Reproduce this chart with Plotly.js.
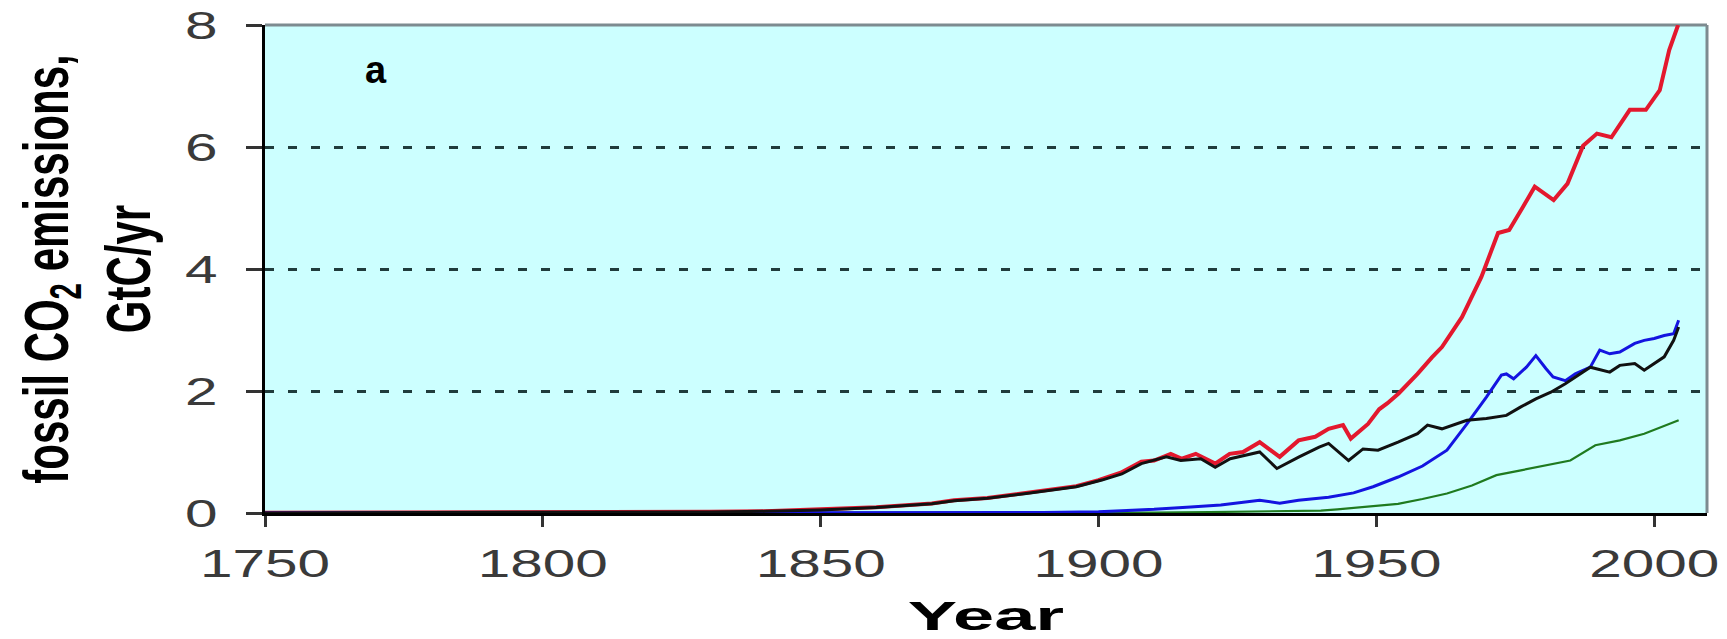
<!DOCTYPE html>
<html>
<head>
<meta charset="utf-8">
<script src="https://cdn.plot.ly/plotly-3.0.1.min.js"></script>
<style>
  html, body { margin: 0; padding: 0; background: #ffffff; }
  #chart { width: 1727px; height: 639px; }
  g.xtick, g.ytick { transform-box: fill-box; transform-origin: center; transform: scaleX(1.5); }
  g.g-xtitle { transform-box: fill-box; transform-origin: center; transform: scaleX(1.85); }
  g.g-ytitle { transform-box: fill-box; transform-origin: center; transform: scaleX(1.5); }
</style>
</head>
<body>
<div id="chart"></div>
<script>
// Total fossil emissions (red)
var totalYears = [1750,1800,1820,1830,1840,1850,1860,1870,1874,1880,1887,1896,1900,1904,1907.7,1910,1913,1915,1917.5,1921,1923.6,1926,1929,1932.6,1936,1939,1941.4,1944,1945.4,1948.5,1950.5,1952,1954,1957.4,1960,1961.8,1965.4,1968.9,1971.9,1973.9,1976.4,1978.5,1981.9,1984.4,1987.2,1989.7,1992.3,1995.6,1998.5,2001,2002.7,2004.3];
var totalValues = [0.003,0.008,0.014,0.02,0.03,0.055,0.095,0.155,0.21,0.245,0.33,0.44,0.54,0.66,0.84,0.86,0.97,0.89,0.97,0.81,0.97,1.0,1.16,0.92,1.19,1.25,1.38,1.44,1.22,1.46,1.70,1.80,1.96,2.28,2.55,2.72,3.21,3.87,4.59,4.64,5.02,5.35,5.13,5.40,6.02,6.22,6.16,6.61,6.61,6.93,7.59,8.0];

// Coal (black)
var coalYears = [1750,1800,1820,1830,1840,1850,1860,1870,1874,1880,1887,1896,1900.6,1904.2,1907.7,1912.2,1914.8,1918.4,1921,1923.7,1929,1932.1,1936.1,1939.7,1941.4,1945,1947.6,1950.3,1953.9,1957.4,1959.2,1961.8,1966.3,1969.8,1973.4,1976,1978.7,1981.4,1984,1986.7,1988.5,1992,1993.8,1996.5,1998.2,2001.8,2003.5,2004.4];
var coalValues = [0.002,0.006,0.012,0.018,0.027,0.05,0.09,0.15,0.2,0.24,0.32,0.43,0.54,0.64,0.81,0.92,0.86,0.89,0.75,0.89,1.0,0.73,0.92,1.08,1.14,0.86,1.05,1.03,1.16,1.30,1.44,1.38,1.52,1.55,1.60,1.74,1.87,1.98,2.12,2.28,2.39,2.31,2.42,2.45,2.34,2.56,2.83,3.05];

// Oil (blue)
var oilYears = [1750,1860,1870,1880,1890,1900,1905,1910,1916.6,1922,1929,1932.6,1936,1941.4,1945.9,1949.4,1953.9,1958.3,1962.7,1966.3,1969.8,1972.5,1973.4,1974.7,1977,1978.7,1980.5,1981.8,1984,1985.8,1988.5,1990.2,1992,1993.8,1996.5,1998.2,2000,2001.8,2003.5,2004.4];
var oilValues = [0,0.0005,0.001,0.003,0.007,0.02,0.04,0.06,0.10,0.13,0.21,0.16,0.21,0.26,0.33,0.43,0.59,0.77,1.03,1.46,1.90,2.26,2.28,2.20,2.39,2.58,2.37,2.23,2.17,2.28,2.39,2.67,2.61,2.64,2.78,2.83,2.86,2.91,2.94,3.16];

// Gas (green)
var gasYears = [1750,1880,1900,1910,1920,1930,1940,1943,1949.4,1953.9,1958.3,1962.7,1967.2,1971.6,1976,1980.5,1984.9,1989.4,1993.8,1998.2,2004.4];
var gasValues = [0,0.001,0.004,0.008,0.015,0.025,0.04,0.06,0.11,0.15,0.23,0.32,0.45,0.62,0.70,0.78,0.86,1.11,1.19,1.30,1.52];

var xTickVals = [1750,1800,1850,1900,1950,2000];
var xTickText = ['1750','1800','1850','1900','1950','2000'];
var yTickVals = [0,2,4,6,8];
var yTickText = ['0','2','4','6','8'];
var panelLabel = 'a';
var yTitle = 'fossil CO<sub>2</sub> emissions,<br>GtC/yr';
var xTitle = 'Year';

var traces = [
  {x: totalYears, y: totalValues, type: 'scatter', mode: 'lines', name: 'Total',
   line: {color: '#e3182e', width: 4}},
  {x: gasYears, y: gasValues, type: 'scatter', mode: 'lines', name: 'Gas',
   line: {color: '#1f7a1f', width: 2.2}},
  {x: oilYears, y: oilValues, type: 'scatter', mode: 'lines', name: 'Oil',
   line: {color: '#1414e0', width: 3}},
  {x: coalYears, y: coalValues, type: 'scatter', mode: 'lines', name: 'Coal',
   line: {color: '#111111', width: 3}}
];

var tickFont = {family: 'Liberation Sans, Arial, sans-serif', size: 39, color: '#3a3a3a'};

var layout = {
  width: 1727, height: 639,
  margin: {l: 265, r: 20, t: 25, b: 126},
  paper_bgcolor: '#ffffff',
  plot_bgcolor: '#ccffff',
  showlegend: false,
  xaxis: {
    range: [1750, 2009.5],
    tickvals: xTickVals, ticktext: xTickText,
    ticks: 'outside', ticklen: 11, tickwidth: 3, tickcolor: '#333333',
    showline: true, linecolor: '#000000', linewidth: 3,
    showgrid: false, zeroline: false,
    tickfont: tickFont,
    ticklabelstandoff: 3,
    title: {text: xTitle, font: {family: 'Liberation Sans, Arial, sans-serif', size: 40, color: '#000000', weight: 'bold'}, standoff: 18}
  },
  yaxis: {
    range: [0, 8],
    tickvals: yTickVals, ticktext: yTickText,
    ticks: 'outside', ticklen: 16, tickwidth: 3, tickcolor: '#333333',
    showline: true, linecolor: '#000000', linewidth: 3,
    showgrid: true, gridcolor: '#203c3c', gridwidth: 3, griddash: '9px,14px',
    zeroline: false,
    tickfont: tickFont,
    ticklabelstandoff: 26,
    title: {text: yTitle, font: {family: 'Liberation Sans, Arial, sans-serif', size: 42, color: '#000000', weight: 'bold'}, standoff: 43}
  },
  shapes: [
    {type: 'line', xref: 'paper', yref: 'paper', x0: 0, x1: 1, y0: 1, y1: 1,
     line: {color: '#7d8b90', width: 3}, layer: 'below'},
    {type: 'line', xref: 'paper', yref: 'paper', x0: 1, x1: 1, y0: 0, y1: 1,
     line: {color: '#7d8b90', width: 3}, layer: 'below'}
  ],
  annotations: [
    {x: 1770, y: 7.27, xref: 'x', yref: 'y', text: '<b>' + panelLabel + '</b>', showarrow: false,
     xanchor: 'center', yanchor: 'middle',
     font: {family: 'Liberation Sans, Arial, sans-serif', size: 38, color: '#000000'}}
  ]
};

Plotly.newPlot('chart', traces, layout, {displayModeBar: false, staticPlot: true});
</script>
</body>
</html>
